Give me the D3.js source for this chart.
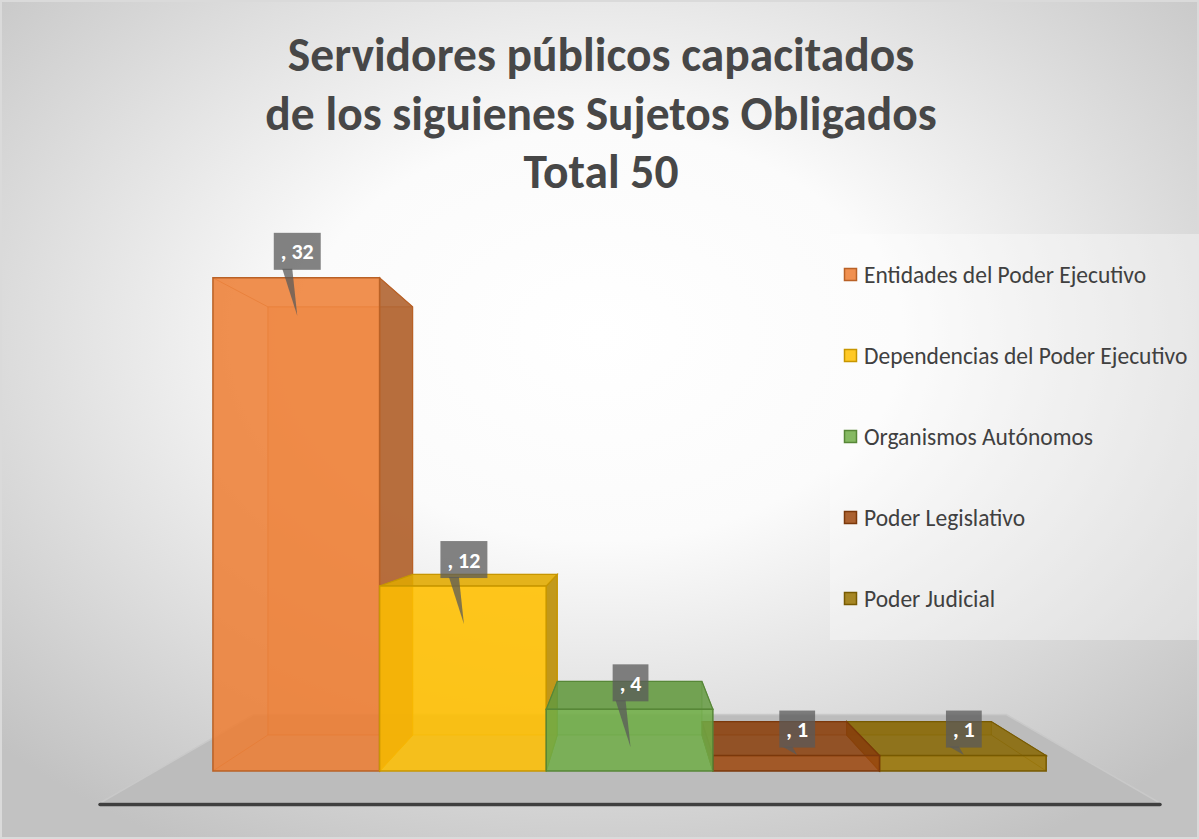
<!DOCTYPE html>
<html lang="es">
<head>
<meta charset="UTF-8">
<title>Servidores públicos capacitados</title>
<script src="https://d3js.org/d3.v7.min.js"></script>
<style>
  html, body { margin: 0; padding: 0; background: #fff; }
  svg { display: block; }
</style>
</head>
<body>
<div id="chart"></div>
<script>
// data
const categories = ["Entidades del Poder Ejecutivo", "Dependencias del Poder Ejecutivo",
                    "Organismos Autónomos", "Poder Legislativo", "Poder Judicial"];
const values = [32, 12, 4, 1, 1];
const barColors = ["#ED7D31", "#FFC000", "#70AD47", "#9E480E", "#997300"];
const titleLines = ["Servidores públicos capacitados", "de los siguienes Sujetos Obligados", "Total 50"];

const W = 1199, H = 839;
const FONT = "Calibri, Carlito, Lato, sans-serif";

const svg = d3.select("#chart").append("svg")
    .attr("width", W).attr("height", H);

// background
const defs = svg.append("defs");
const bg = defs.append("radialGradient").attr("id", "bg")
    .attr("cx", "50%").attr("cy", "40%").attr("r", "70%");
bg.append("stop").attr("offset", "0%").attr("stop-color", "#ffffff");
bg.append("stop").attr("offset", "35%").attr("stop-color", "#fbfbfb");
bg.append("stop").attr("offset", "100%").attr("stop-color", "#c2c2c2");
svg.append("rect").attr("width", W).attr("height", H).attr("fill", "url(#bg)");
svg.append("rect").attr("x", 1).attr("y", 1).attr("width", W - 2).attr("height", H - 2)
    .attr("fill", "none").attr("stroke", "#dadada").attr("stroke-width", 2);

// title
svg.append("g").selectAll("text").data(titleLines).join("text")
    .attr("x", 601)
    .attr("y", (d, i) => 71 + i * 58.5)
    .attr("text-anchor", "middle")
    .style("font-family", FONT)
    .style("font-weight", "bold")
    .style("font-size", "47.5px")
    .attr("fill", "#474747")
    .text(d => d);

// perspective: vanishing point + depth scale
const VP = {x: 630, y: 498};
const GROUND = 305;
const sFront = 0.895, sBack = 0.777;   // bars
const fFront = 1, fBack = 0.71;       // floor
function P(X, Y, s) { return [VP.x + X * s, VP.y + (GROUND - Y) * s]; }

const x = d3.scaleBand().domain(categories).range([-466, 465]).padding(0);
const y = d3.scaleLinear().domain([0, 32]).range([0, 551]);

// floor
const fl = x.range()[0] - 64, fr = x.range()[1] + 65;
const floorPts = [P(fl, 0, fFront), P(fr, 0, fFront), P(fr, 0, fBack), P(fl, 0, fBack)];
svg.append("polygon")
    .attr("points", floorPts.map(p => p.join(",")).join(" "))
    .attr("fill", "#bcbcbc")
    .attr("stroke", "#c9c9c9").attr("stroke-width", 1.5);
svg.append("line")
    .attr("x1", floorPts[0][0]).attr("y1", floorPts[0][1] + 1.5)
    .attr("x2", floorPts[1][0]).attr("y2", floorPts[1][1] + 1.5)
    .attr("stroke", "#3f3f3f").attr("stroke-width", 3.5).attr("stroke-linecap", "round");

// bars
const data = categories.map((c, i) => ({cat: c, v: values[i], color: barColors[i]}));
const order = data.slice().sort((a, b) =>
    Math.abs(x(b.cat) + x.bandwidth() / 2) - Math.abs(x(a.cat) + x.bandwidth() / 2));

const pts = arr => arr.map(p => p.join(",")).join(" ");
const barG = svg.append("g");

order.forEach(d => {
  const X0 = x(d.cat), X1 = X0 + x.bandwidth(), Hh = y(d.v);
  const fbl = P(X0, 0, sFront), fbr = P(X1, 0, sFront), ftl = P(X0, Hh, sFront), ftr = P(X1, Hh, sFront);
  const bbl = P(X0, 0, sBack), bbr = P(X1, 0, sBack), btl = P(X0, Hh, sBack), btr = P(X1, Hh, sBack);
  const c = d3.color(d.color);
  const edge = c.darker(0.7).formatHex();
  const g = barG.append("g");

  // hidden back structure seen through the transparent box
  g.append("polygon").attr("points", pts([bbl, bbr, btr, btl]))
      .attr("fill", d.color).attr("fill-opacity", 0.25)
      .attr("stroke", edge).attr("stroke-opacity", 0.6).attr("stroke-width", 1);
  [[fbl, bbl], [fbr, bbr], [ftl, btl], [ftr, btr]].forEach(([a, b]) => {
    g.append("line").attr("x1", a[0]).attr("y1", a[1]).attr("x2", b[0]).attr("y2", b[1])
        .attr("stroke", edge).attr("stroke-opacity", 0.6).attr("stroke-width", 1);
  });

  // visible side face
  if (X1 < 0) {
    g.append("polygon").attr("points", pts([fbr, bbr, btr, ftr]))
        .attr("fill", c.darker(0.9).formatHex()).attr("fill-opacity", 0.85)
        .attr("stroke", edge).attr("stroke-width", 1.2);
  } else if (X0 > 0) {
    g.append("polygon").attr("points", pts([fbl, bbl, btl, ftl]))
        .attr("fill", c.darker(0.9).formatHex()).attr("fill-opacity", 0.85)
        .attr("stroke", edge).attr("stroke-width", 1.2);
  }
  // top face when it lies below the horizon
  if (Hh < GROUND) {
    g.append("polygon").attr("points", pts([ftl, ftr, btr, btl]))
        .attr("fill", c.darker(0.35).formatHex()).attr("fill-opacity", 0.85)
        .attr("stroke", edge).attr("stroke-width", 1.2);
  }
  // front face
  g.append("polygon").attr("points", pts([fbl, fbr, ftr, ftl]))
      .attr("fill", d.color).attr("fill-opacity", 0.85)
      .attr("stroke", edge).attr("stroke-width", 1.5);
});

// data labels (callouts)
const lab = svg.append("g");
data.forEach(d => {
  const X0 = x(d.cat), Hh = y(d.v);
  const ftl = P(X0, Hh, sFront), fbl = P(X0, 0, sFront);
  const cx = P(X0 + x.bandwidth() / 2, Hh, sFront)[0];
  const top = ftl[1], bottom = fbl[1];
  const t = lab.append("text")
      .attr("text-anchor", "middle")
      .style("font-family", FONT).style("font-weight", "bold").style("font-size", "22px")
      .attr("fill", "#ffffff")
      .text(", " + d.v);
  const tw = t.node().getComputedTextLength();
  const bw = tw + 14, bh = 37;
  const bx = cx + 1 - bw / 2, byB = top - 8;
  const tipY = Math.min(top + 38, bottom - 16);
  lab.insert("polygon", "text")
      .attr("points", pts([[cx - 14, byB - 1], [cx - 4, byB - 1], [cx + 1, tipY]]))
      .attr("fill", "#5a5a5a").attr("fill-opacity", 0.75);
  lab.insert("rect", "text")
      .attr("x", bx).attr("y", byB - bh).attr("width", bw).attr("height", bh)
      .attr("fill", "#5a5a5a").attr("fill-opacity", 0.75);
  t.attr("x", cx + 1).attr("y", byB - bh / 2 + 8);
});

// legend
const leg = svg.append("g");
leg.append("rect").attr("x", 830).attr("y", 234).attr("width", 369).attr("height", 406)
    .attr("fill", "#ffffff").attr("fill-opacity", 0.35);
const items = leg.selectAll("g.item").data(data).join("g")
    .attr("class", "item")
    .attr("transform", (d, i) => `translate(844,${275 + i * 81})`);
items.append("rect").attr("x", 0.5).attr("y", -6.5).attr("width", 12).attr("height", 12)
    .attr("fill", d => d.color).attr("fill-opacity", 0.85)
    .attr("stroke", d => d3.color(d.color).darker(0.7).formatHex()).attr("stroke-width", 1.5);
items.append("text").attr("x", 20).attr("y", 8)
    .style("font-family", FONT).style("font-size", "23.5px")
    .attr("fill", "#404040")
    .text(d => d.cat);
</script>
</body>
</html>
